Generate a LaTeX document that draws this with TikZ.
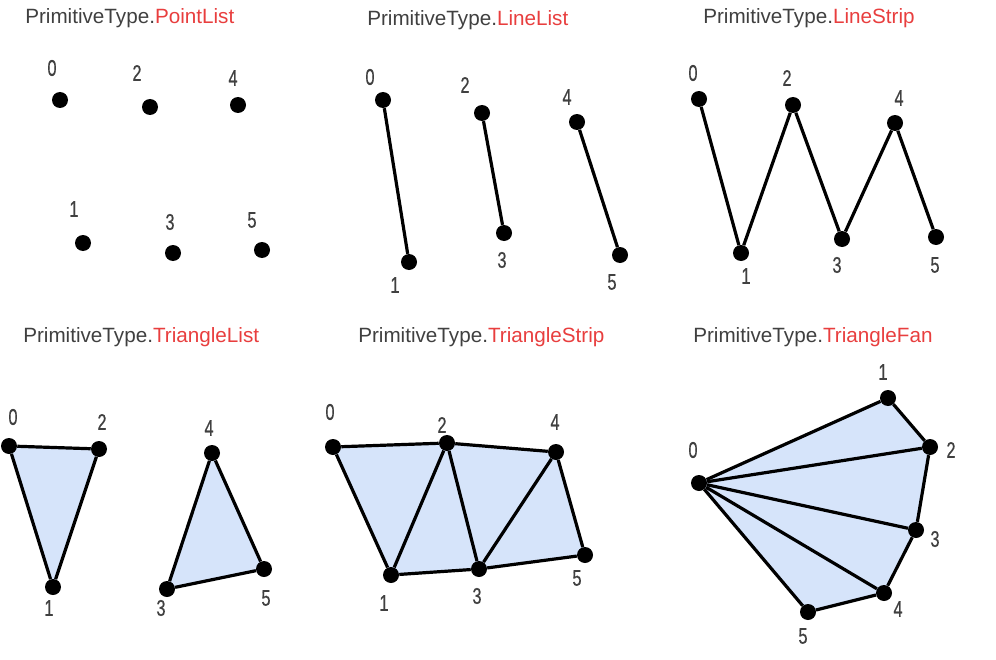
\documentclass[tikz,border=0pt]{standalone}
\usepackage{fontspec}
\setmainfont{Liberation Sans}
\newfontfamily\numfont[FakeStretch=0.72,FakeBold=0.6]{Liberation Sans}
\usetikzlibrary{backgrounds}
\usepackage{xcolor}
\definecolor{textgray}{RGB}{64,64,64}
\definecolor{typered}{RGB}{232,62,62}
\definecolor{trifill}{RGB}{214,228,250}

\begin{document}
\begin{tikzpicture}[x=0.75pt, y=-0.75pt,
        vertex/.style={circle, fill=black, inner sep=0pt, minimum size=12pt},
        num/.style={inner sep=0pt, text=textgray, font=\numfont\fontsize{17}{17}\selectfont},
        title/.style={anchor=west, inner sep=0pt, text=textgray, font=\fontsize{15.5}{16}\selectfont},
        edge/.style={line width=2.4pt, line join=round},
        face/.style={fill=trifill}
    ]
        \useasboundingbox (0,0) rectangle (996,660);

        % Titles
        \node[title] (tpl) at (25,18) {PrimitiveType.\textcolor{typered}{PointList}};
        \node[title] (tll) at (367,20) {PrimitiveType.\textcolor{typered}{LineList}};
        \node[title] (tls) at (703,18) {PrimitiveType.\textcolor{typered}{LineStrip}};
        \node[title] (ttl) at (23,337) {PrimitiveType.\textcolor{typered}{TriangleList}};
        \node[title] (tts) at (358,337) {PrimitiveType.\textcolor{typered}{TriangleStrip}};
        \node[title] (ttf) at (693,337) {PrimitiveType.\textcolor{typered}{TriangleFan}};

        % PointList
        \node[vertex] (pl0) at (60,100) {};
        \node[vertex] (pl1) at (83,243) {};
        \node[vertex] (pl2) at (150,107) {};
        \node[vertex] (pl3) at (173,253) {};
        \node[vertex] (pl4) at (238,105) {};
        \node[vertex] (pl5) at (262,250) {};
        \node[num] (npl0) at (52,68) {0};
        \node[num] (npl1) at (74,209) {1};
        \node[num] (npl2) at (137,73) {2};
        \node[num] (npl3) at (170,222) {3};
        \node[num] (npl4) at (233,78) {4};
        \node[num] (npl5) at (252,220) {5};

        % LineList
        \node[vertex] (ll0) at (383,100) {};
        \node[vertex] (ll1) at (409,262) {};
        \node[vertex] (ll2) at (482,113) {};
        \node[vertex] (ll3) at (504,233) {};
        \node[vertex] (ll4) at (577,122) {};
        \node[vertex] (ll5) at (620,255) {};
        \node[num] (nll0) at (370,77) {0};
        \node[num] (nll1) at (395,285) {1};
        \node[num] (nll2) at (465,85) {2};
        \node[num] (nll3) at (502,260) {3};
        \node[num] (nll4) at (567,97) {4};
        \node[num] (nll5) at (612,282) {5};
        \draw[edge] (ll0) -- (ll1);
        \draw[edge] (ll2) -- (ll3);
        \draw[edge] (ll4) -- (ll5);

        % LineStrip
        \node[vertex] (ls0) at (699,99) {};
        \node[vertex] (ls1) at (741,253) {};
        \node[vertex] (ls2) at (793,105) {};
        \node[vertex] (ls3) at (842,239) {};
        \node[vertex] (ls4) at (895,123) {};
        \node[vertex] (ls5) at (936,237) {};
        \node[num] (nls0) at (693,73) {0};
        \node[num] (nls1) at (746,276) {1};
        \node[num] (nls2) at (787,78) {2};
        \node[num] (nls3) at (837,265) {3};
        \node[num] (nls4) at (899,98) {4};
        \node[num] (nls5) at (935,265) {5};
        \draw[edge] (ls0) -- (ls1);
        \draw[edge] (ls1) -- (ls2);
        \draw[edge] (ls2) -- (ls3);
        \draw[edge] (ls3) -- (ls4);
        \draw[edge] (ls4) -- (ls5);

        % TriangleList
        \node[vertex] (tl0) at (9,446) {};
        \node[vertex] (tl1) at (53,587) {};
        \node[vertex] (tl2) at (99,449) {};
        \node[vertex] (tl3) at (167,589) {};
        \node[vertex] (tl4) at (212,453) {};
        \node[vertex] (tl5) at (264,569) {};
        \node[num] (ntl0) at (13,417) {0};
        \node[num] (ntl1) at (49,608) {1};
        \node[num] (ntl2) at (102,422) {2};
        \node[num] (ntl3) at (161,608) {3};
        \node[num] (ntl4) at (209,428) {4};
        \node[num] (ntl5) at (266,598) {5};
        \begin{pgfonlayer}{background}
            \fill[face] (tl0.center) -- (tl1.center) -- (tl2.center) -- cycle;
            \fill[face] (tl3.center) -- (tl4.center) -- (tl5.center) -- cycle;
        \end{pgfonlayer}
        \draw[edge] (tl0) -- (tl2);
        \draw[edge] (tl0) -- (tl1);
        \draw[edge] (tl1) -- (tl2);
        \draw[edge] (tl3) -- (tl4);
        \draw[edge] (tl4) -- (tl5);
        \draw[edge] (tl3) -- (tl5);

        % TriangleStrip
        \node[vertex] (ts0) at (333,447) {};
        \node[vertex] (ts1) at (391,575) {};
        \node[vertex] (ts2) at (447,443) {};
        \node[vertex] (ts3) at (479,569) {};
        \node[vertex] (ts4) at (556,452) {};
        \node[vertex] (ts5) at (585,555) {};
        \node[num] (nts0) at (330,412) {0};
        \node[num] (nts1) at (384,603) {1};
        \node[num] (nts2) at (442,425) {2};
        \node[num] (nts3) at (477,596) {3};
        \node[num] (nts4) at (555,422) {4};
        \node[num] (nts5) at (577,578) {5};
        \begin{pgfonlayer}{background}
            \fill[face] (ts0.center) -- (ts2.center) -- (ts4.center) -- (ts5.center)
                -- (ts3.center) -- (ts1.center) -- cycle;
        \end{pgfonlayer}
        \draw[edge] (ts0) -- (ts2);
        \draw[edge] (ts2) -- (ts4);
        \draw[edge] (ts1) -- (ts3);
        \draw[edge] (ts3) -- (ts5);
        \draw[edge] (ts0) -- (ts1);
        \draw[edge] (ts1) -- (ts2);
        \draw[edge] (ts2) -- (ts3);
        \draw[edge] (ts3) -- (ts4);
        \draw[edge] (ts4) -- (ts5);

        % TriangleFan
        \node[vertex] (tf0) at (699,483) {};
        \node[vertex] (tf1) at (888,398) {};
        \node[vertex] (tf2) at (930,447) {};
        \node[vertex] (tf3) at (916,530) {};
        \node[vertex] (tf4) at (884,593) {};
        \node[vertex] (tf5) at (808,612) {};
        \node[num] (ntf0) at (693,450) {0};
        \node[num] (ntf1) at (883,372) {1};
        \node[num] (ntf2) at (951,450) {2};
        \node[num] (ntf3) at (935,539) {3};
        \node[num] (ntf4) at (898,609) {4};
        \node[num] (ntf5) at (803,636) {5};
        \begin{pgfonlayer}{background}
            \fill[face] (tf0.center) -- (tf1.center) -- (tf2.center) -- (tf3.center)
                -- (tf4.center) -- (tf5.center) -- cycle;
        \end{pgfonlayer}
        \draw[edge] (tf0) -- (tf1);
        \draw[edge] (tf0) -- (tf2);
        \draw[edge] (tf0) -- (tf3);
        \draw[edge] (tf0) -- (tf4);
        \draw[edge] (tf0) -- (tf5);
        \draw[edge] (tf1) -- (tf2);
        \draw[edge] (tf2) -- (tf3);
        \draw[edge] (tf3) -- (tf4);
        \draw[edge] (tf4) -- (tf5);
    \end{tikzpicture}
\end{document}
